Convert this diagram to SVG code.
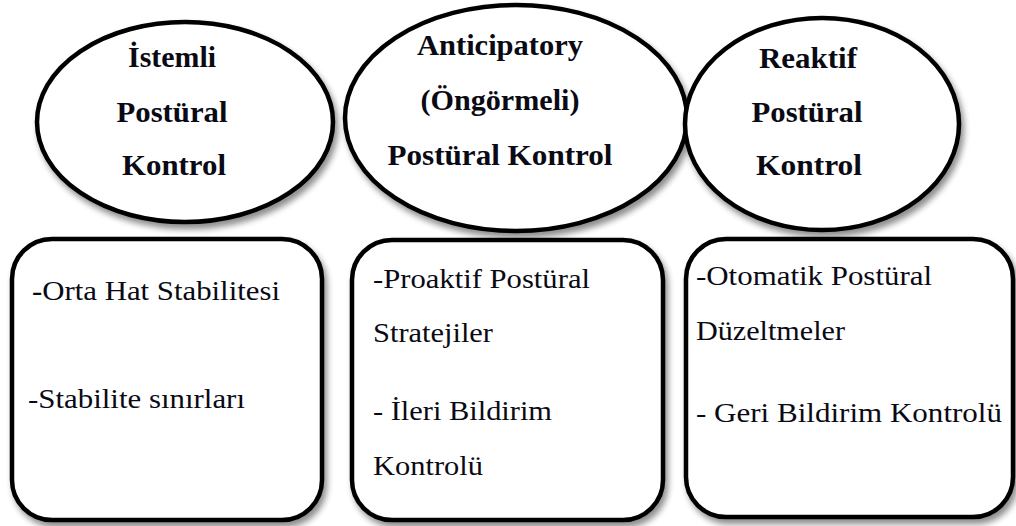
<svg xmlns="http://www.w3.org/2000/svg" width="1016" height="526" viewBox="0 0 1016 526">
<defs>
<filter id="sh" x="-10%" y="-10%" width="125%" height="130%">
<feGaussianBlur in="SourceAlpha" stdDeviation="3"/>
<feOffset dx="3" dy="5" result="b"/>
<feComponentTransfer><feFuncA type="linear" slope="0.45"/></feComponentTransfer>
<feMerge><feMergeNode/><feMergeNode in="SourceGraphic"/></feMerge>
</filter>
</defs>
<style>
.shape{fill:#fff;stroke:#000;stroke-width:4.5;filter:url(#sh)}
.h{font-family:"Liberation Serif","DejaVu Serif",serif;font-weight:bold;font-size:29px;fill:#0a0a14;text-anchor:middle}
.t{font-family:"Liberation Serif","DejaVu Serif",serif;font-size:28px;fill:#0a0a14}
</style>
<rect width="1016" height="526" fill="#fff"/>
<g id="connectors"></g>
<g id="node-istemli">
<ellipse class="shape" cx="185" cy="122" rx="148" ry="100"/>
<text class="h" x="172" y="67" textLength="88" lengthAdjust="spacingAndGlyphs">İstemli</text>
<text class="h" x="172" y="122" textLength="111" lengthAdjust="spacingAndGlyphs">Postüral</text>
<text class="h" x="174" y="175" textLength="104" lengthAdjust="spacingAndGlyphs">Kontrol</text>
</g>
<g id="node-anticipatory">
<ellipse class="shape" cx="516" cy="118" rx="171" ry="113"/>
<text class="h" x="500" y="55" textLength="166" lengthAdjust="spacingAndGlyphs">Anticipatory</text>
<text class="h" x="500" y="110" textLength="159" lengthAdjust="spacingAndGlyphs">(Öngörmeli)</text>
<text class="h" x="500" y="165" textLength="225" lengthAdjust="spacingAndGlyphs">Postüral Kontrol</text>
</g>
<g id="node-reaktif">
<ellipse class="shape" cx="822" cy="124" rx="137" ry="106"/>
<text class="h" x="808" y="68" textLength="98" lengthAdjust="spacingAndGlyphs">Reaktif</text>
<text class="h" x="807" y="122" textLength="111" lengthAdjust="spacingAndGlyphs">Postüral</text>
<text class="h" x="809" y="175" textLength="106" lengthAdjust="spacingAndGlyphs">Kontrol</text>
</g>
<g id="box-istemli">
<rect class="shape" x="12" y="239" width="310" height="281" rx="40" ry="40"/>
<text class="t" x="32" y="300" textLength="248" lengthAdjust="spacingAndGlyphs"><tspan font-weight="bold">-</tspan>Orta Hat Stabilitesi</text>
<text class="t" x="28" y="408" textLength="217" lengthAdjust="spacingAndGlyphs">-Stabilite sınırları</text>
</g>
<g id="box-anticipatory">
<rect class="shape" x="352" y="240" width="311" height="280" rx="40" ry="40"/>
<text class="t" x="373" y="288" textLength="217" lengthAdjust="spacingAndGlyphs">-Proaktif Postüral</text>
<text class="t" x="373" y="342" textLength="120" lengthAdjust="spacingAndGlyphs">Stratejiler</text>
<text class="t" x="373" y="420" textLength="179" lengthAdjust="spacingAndGlyphs">- İleri Bildirim</text>
<text class="t" x="373" y="475" textLength="110" lengthAdjust="spacingAndGlyphs">Kontrolü</text>
</g>
<g id="box-reaktif">
<rect class="shape" x="686" y="239" width="327" height="278" rx="40" ry="40"/>
<text class="t" x="696" y="285" textLength="236" lengthAdjust="spacingAndGlyphs">-Otomatik Postüral</text>
<text class="t" x="696" y="340" textLength="149" lengthAdjust="spacingAndGlyphs">Düzeltmeler</text>
<text class="t" x="696" y="422" textLength="306" lengthAdjust="spacingAndGlyphs">- Geri Bildirim Kontrolü</text>
</g>
</svg>
